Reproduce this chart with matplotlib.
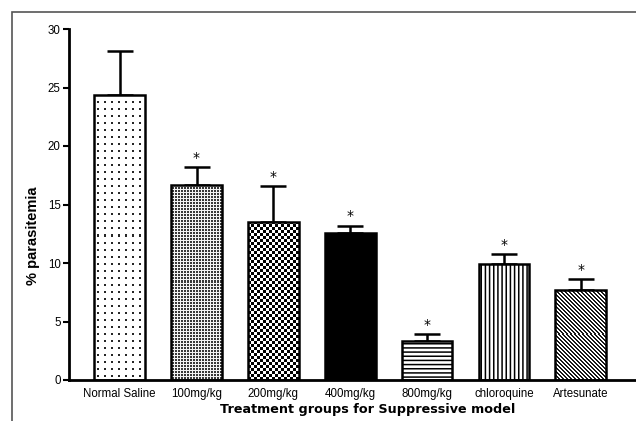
import matplotlib
matplotlib.use("Agg")
import matplotlib.pyplot as plt
import numpy as np
from matplotlib.patches import Rectangle

categories = ["Normal Saline", "100mg/kg", "200mg/kg", "400mg/kg", "800mg/kg", "chloroquine", "Artesunate"]
means = [24.4, 16.7, 13.5, 12.6, 3.3, 9.9, 7.7]
errors = [3.7, 1.5, 3.1, 0.6, 0.6, 0.9, 0.9]
significant = [False, True, True, True, True, True, True]
# fill styles: image-based textures or matplotlib hatches
fills = ["dots", "grid", "checker", "solid", "----", "||||", "diag"]

plt.rcParams["hatch.linewidth"] = 1.1
W, H = 636, 421
fig = plt.figure(figsize=(W / 100, H / 100), dpi=100)
ax = fig.add_axes([69 / W, 1 - 380 / H, 1 - 69 / W, (380 - 29) / H])
ax.set_xlim(-0.66, 6.72)
ax.set_ylim(0, 30)

bw = 0.66
x = np.arange(len(categories))


def texture(kind, h, w):
    i, j = np.mgrid[0:h, 0:w]
    if kind == "dots":
        a = np.ones((h, w))
        a[((i - 3) % 7 < 2) & ((j - 3) % 7 < 2)] = 0.15
    elif kind == "grid":
        a = np.where((i % 3 == 0) | (j % 3 == 0), 0.95, 0.22)
    elif kind == "checker":
        a = np.where(((i // 3) + (j // 3)) % 2 == 0, 0.0, 1.0)
    elif kind == "diag":
        a = np.where((i + j) % 4 < 2, 0.1, 1.0)
    return a


px_per_x = ax.transData.transform((1, 0))[0] - ax.transData.transform((0, 0))[0]
px_per_y = ax.transData.transform((0, 1))[1] - ax.transData.transform((0, 0))[1]
textures = ("dots", "grid", "checker", "diag")

for xi, m, f in zip(x, means, fills):
    face = "black" if f == "solid" else "white"
    hatch = f if f not in textures + ("solid",) else None
    b = ax.bar(xi, m, width=bw, color=face, edgecolor="black", linewidth=1.8,
               hatch=hatch, zorder=2)[0]
    if f in textures:
        b.set_facecolor("none")
        hpx = max(int(round(m * px_per_y)), 1)
        wpx = max(int(round(bw * px_per_x)), 1)
        im = ax.imshow(texture(f, hpx, wpx), cmap="gray", vmin=0, vmax=1,
                       extent=(xi - bw / 2, xi + bw / 2, 0, m), origin="lower",
                       interpolation="nearest", aspect="auto", zorder=1.5)
        im.set_clip_path(b)

ax.set_xlim(-0.66, 6.72)
ax.set_ylim(0, 30)

ax.errorbar(x, means, yerr=[[0] * len(means), errors], fmt="none", ecolor="black",
            elinewidth=1.8, capsize=9.5, capthick=1.8, zorder=1)
for xi, m, e, s in zip(x, means, errors, significant):
    if s:
        ax.annotate("*", (xi, m + e), xytext=(0, 1.5), textcoords="offset points",
                    ha="center", va="bottom", fontsize=10)

ax.set_yticks([0, 5, 10, 15, 20, 25, 30])
ax.set_xticks(x)
fam = ["Liberation Sans Narrow", "Liberation Sans", "DejaVu Sans"]
ax.set_xticklabels(categories, fontsize=8.3, family=fam)
for lab in ax.get_yticklabels():
    lab.set_fontsize(8.3)
    lab.set_family(fam)
ax.tick_params(axis="x", length=0, pad=6)
ax.tick_params(axis="y", length=4, width=1.5, pad=2)
for s in ["top", "right"]:
    ax.spines[s].set_visible(False)
ax.spines["left"].set_linewidth(2)
ax.spines["bottom"].set_linewidth(2)
ax.patch.set_visible(False)

fig.text(33 / W, 1 - 236 / H, "% parasitemia", rotation=90, ha="center", va="center",
         fontsize=10.5, fontweight="bold", family=["Liberation Sans", "DejaVu Sans"])
fig.text(368 / W, 1 - 410 / H, "Treatment groups for Suppressive model", ha="center",
         va="center", fontsize=9.2, fontweight="bold", family=["DejaVu Sans"])

fig.patches.append(Rectangle((12 / W, -0.05), 1.2, 1 - 12 / H + 0.05, transform=fig.transFigure,
                             fill=False, edgecolor="#555555", linewidth=1.2))

fig.savefig("out.png", dpi=100)
